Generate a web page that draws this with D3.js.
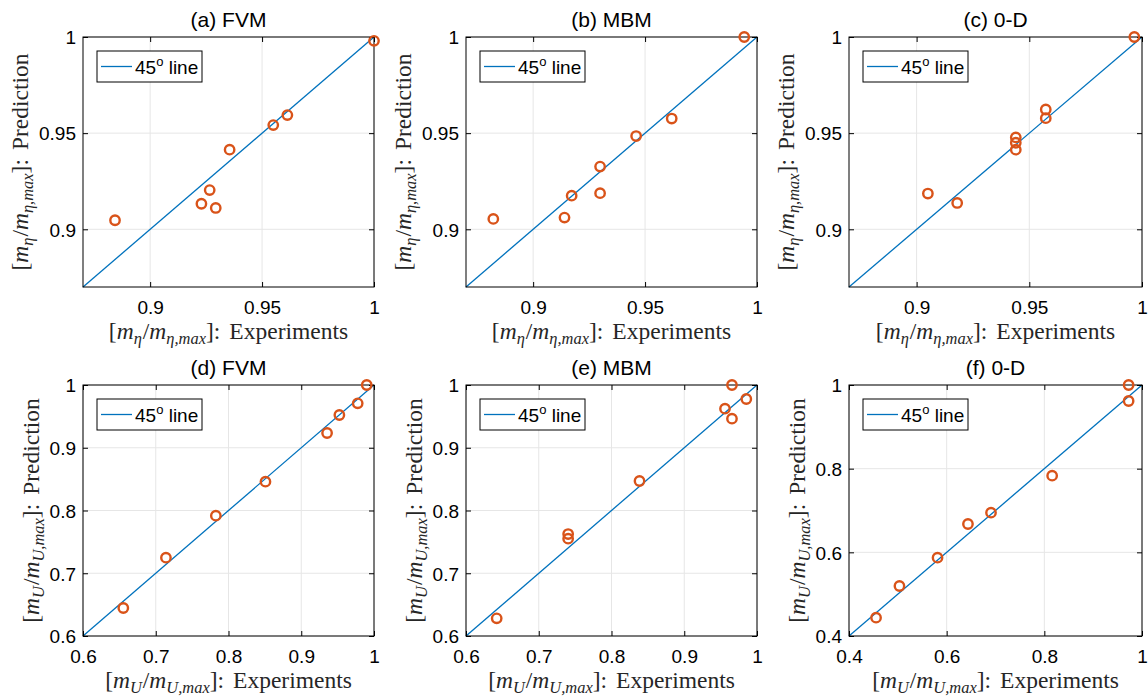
<!DOCTYPE html>
<html>
<head>
<meta charset="utf-8">
<script src="https://cdn.jsdelivr.net/npm/d3@7"></script>
<style>
  html, body { margin: 0; padding: 0; background: #fff; }
  svg { display: block; }
</style>
</head>
<body>
<svg id="fig" width="1148" height="696"></svg>
<script>
// ---- data -------------------------------------------------------------
const panelTitles = ["(a) FVM", "(b) MBM", "(c) 0-D", "(d) FVM", "(e) MBM", "(f) 0-D"];

// Top row: normalised eta-moment, experiment vs prediction
const fvmEtaExp  = [1.000, 0.9613, 0.955, 0.9355, 0.9266, 0.9229, 0.9293, 0.8843];
const fvmEtaPred = [0.998, 0.9594, 0.9542, 0.9414, 0.9204, 0.9133, 0.9111, 0.9047];
const mbmEtaExp  = [0.9943, 0.9619, 0.946, 0.9299, 0.9299, 0.9172, 0.914, 0.8822];
const mbmEtaPred = [1.000, 0.9576, 0.9485, 0.9326, 0.9188, 0.9175, 0.9061, 0.9054];
const zdEtaExp   = [0.9966, 0.9573, 0.9573, 0.944, 0.944, 0.944, 0.905, 0.918];
const zdEtaPred  = [1.000, 0.9623, 0.9578, 0.9478, 0.945, 0.9414, 0.9186, 0.9137];

// Bottom row: normalised U-moment, experiment vs prediction
const fvmUExp  = [0.990, 0.9776, 0.9524, 0.9355, 0.8508, 0.7826, 0.714, 0.6554];
const fvmUPred = [1.000, 0.9708, 0.9522, 0.9235, 0.846, 0.7918, 0.7248, 0.6446];
const mbmUExp  = [0.9656, 0.9853, 0.956, 0.9656, 0.8385, 0.7404, 0.7404, 0.6422];
const mbmUPred = [1.000, 0.9777, 0.9623, 0.9463, 0.847, 0.7625, 0.7551, 0.6282];
const zdUExp   = [0.9726, 0.9726, 0.816, 0.6908, 0.6436, 0.5813, 0.5033, 0.4554];
const zdUPred  = [1.000, 0.9618, 0.7833, 0.6948, 0.6677, 0.5873, 0.5195, 0.4438];

// Axis limits and ticks
const etaDomain = [0.87, 1];
const uDomain   = [0.6, 1];
const u0dDomain = [0.4, 1];
const etaTicks  = [0.9, 0.95, 1];
const etaTickLabels = ["0.9", "0.95", "1"];
const uTicks    = [0.6, 0.7, 0.8, 0.9, 1];
const uTickLabels = ["0.6", "0.7", "0.8", "0.9", "1"];
const u0dTicks  = [0.4, 0.6, 0.8, 1];
const u0dTickLabels = ["0.4", "0.6", "0.8", "1"];

const legendLabel = "45";
const xLabelWord = "Experiments";
const yLabelWord = "Prediction";

// ---- layout -----------------------------------------------------------
const colLeft  = [83, 466, 849];
const colWidth = [291, 291, 293];
const rowTop   = [37, 385];
const rowHeight = [250, 251];

const LINE_BLUE = "#0072BD";
const MARK_ORANGE = "#D95319";
const GRID = "#e6e6e6";
const SANS = "'Liberation Sans', Arial, Helvetica, sans-serif";
const SERIF = "'Liberation Serif', 'Times New Roman', serif";

const panels = [
  {xs: fvmEtaExp, ys: fvmEtaPred, dom: etaDomain, ticks: etaTicks, labels: etaTickLabels, sub: "\u03B7"},
  {xs: mbmEtaExp, ys: mbmEtaPred, dom: etaDomain, ticks: etaTicks, labels: etaTickLabels, sub: "\u03B7"},
  {xs: zdEtaExp,  ys: zdEtaPred,  dom: etaDomain, ticks: etaTicks, labels: etaTickLabels, sub: "\u03B7"},
  {xs: fvmUExp,   ys: fvmUPred,   dom: uDomain,   ticks: uTicks,   labels: uTickLabels,   sub: "U"},
  {xs: mbmUExp,   ys: mbmUPred,   dom: uDomain,   ticks: uTicks,   labels: uTickLabels,   sub: "U"},
  {xs: zdUExp,    ys: zdUPred,    dom: u0dDomain, ticks: u0dTicks, labels: u0dTickLabels, sub: "U"}
];

const svg = d3.select("#fig");

// Writes [m_s/m_{s,max}]: word into a text element using tspans
function mathLabel(text, sub, word) {
  const fs = 23.5;
  const sd = 5;
  text.attr("font-family", SERIF).attr("font-size", fs).attr("fill", "#262626");
  text.append("tspan").text("[");
  text.append("tspan").attr("font-style", "italic").text("m");
  text.append("tspan").attr("font-style", "italic").attr("font-size", fs * 0.7).attr("dy", sd).text(sub);
  text.append("tspan").attr("dy", -sd).attr("dx", 1).text("/");
  text.append("tspan").attr("font-style", "italic").text("m");
  text.append("tspan").attr("font-style", "italic").attr("font-size", fs * 0.7).attr("dy", sd).text(sub + ",max");
  text.append("tspan").attr("dy", -sd).text("]:");
  text.append("tspan").attr("dx", 9).text(word);
}

panels.forEach((p, i) => {
  const r = Math.floor(i / 3), c = i % 3;
  const left = colLeft[c], top = rowTop[r], w = colWidth[c], h = rowHeight[r];
  const x = d3.scaleLinear().domain(p.dom).range([left, left + w]);
  const y = d3.scaleLinear().domain(p.dom).range([top + h, top]);
  const g = svg.append("g");

  // grid
  g.selectAll(".gx").data(p.ticks).join("line")
    .attr("x1", d => x(d)).attr("x2", d => x(d))
    .attr("y1", top).attr("y2", top + h)
    .attr("stroke", GRID).attr("stroke-width", 1);
  g.selectAll(".gy").data(p.ticks).join("line")
    .attr("y1", d => y(d)).attr("y2", d => y(d))
    .attr("x1", left).attr("x2", left + w)
    .attr("stroke", GRID).attr("stroke-width", 1);

  // 45-degree reference line
  g.append("path")
    .datum(p.dom)
    .attr("d", d3.line().x(d => x(d)).y(d => y(d)))
    .attr("stroke", LINE_BLUE).attr("stroke-width", 1.3).attr("fill", "none");

  // axes: ticks inward on all four sides
  const tickLen = 5;
  const axB = d3.axisBottom(x).tickValues(p.ticks).tickSize(-tickLen).tickFormat((d, k) => p.labels[k]);
  const axT = d3.axisTop(x).tickValues(p.ticks).tickSize(-tickLen).tickFormat("");
  const axL = d3.axisLeft(y).tickValues(p.ticks).tickSize(-tickLen).tickFormat((d, k) => p.labels[k]);
  const axR = d3.axisRight(y).tickValues(p.ticks).tickSize(-tickLen).tickFormat("");

  const gb = g.append("g").attr("transform", `translate(0,${top + h})`).call(axB);
  const gt = g.append("g").attr("transform", `translate(0,${top})`).call(axT);
  const gl = g.append("g").attr("transform", `translate(${left},0)`).call(axL);
  const gr = g.append("g").attr("transform", `translate(${left + w},0)`).call(axR);
  [gb, gt, gl, gr].forEach(a => {
    a.select(".domain").remove();
    a.selectAll(".tick line").attr("stroke", "#000").attr("stroke-width", 1);
    a.selectAll(".tick text").attr("font-family", SANS).attr("font-size", 19).attr("fill", "#000");
  });
  gb.selectAll(".tick text").attr("dy", "0.71em").attr("y", 14);
  gl.selectAll(".tick text").attr("x", -7).attr("dy", "0.36em");

  // box
  g.append("rect").attr("x", left).attr("y", top).attr("width", w).attr("height", h)
    .attr("fill", "none").attr("stroke", "#000").attr("stroke-width", 1);

  // data markers
  g.selectAll("circle").data(p.xs.map((v, k) => [v, p.ys[k]])).join("circle")
    .attr("cx", d => x(d[0])).attr("cy", d => y(d[1])).attr("r", 4.7)
    .attr("fill", "none").attr("stroke", MARK_ORANGE).attr("stroke-width", 2.4);

  // legend
  const lg = g.append("g").attr("transform", `translate(${left + 14},${top + 14})`);
  lg.append("rect").attr("width", 105).attr("height", 31).attr("fill", "#fff").attr("stroke", "#000").attr("stroke-width", 1);
  lg.append("line").attr("x1", 4).attr("x2", 35).attr("y1", 15.5).attr("y2", 15.5)
    .attr("stroke", LINE_BLUE).attr("stroke-width", 1.3);
  const lt = lg.append("text").attr("x", 38).attr("y", 23)
    .attr("font-family", SANS).attr("font-size", 19).attr("fill", "#000");
  lt.append("tspan").text(legendLabel);
  lt.append("tspan").attr("font-size", 13).attr("dy", -8).text("o");
  lt.append("tspan").attr("dy", 8).text(" line");

  // title
  g.append("text").attr("x", left + w / 2).attr("y", top - 10)
    .attr("text-anchor", "middle").attr("font-family", SANS).attr("font-size", 21)
    .attr("fill", "#000").text(panelTitles[i]);

  // x label
  const xl = g.append("text").attr("x", left + w / 2).attr("y", top + h + 52).attr("text-anchor", "middle");
  mathLabel(xl, p.sub, xLabelWord);

  // y label, placed just outside the widest tick label
  let maxW = 0;
  gl.selectAll(".tick text").each(function () { maxW = Math.max(maxW, this.getComputedTextLength()); });
  const yx = left - 7 - maxW - 11;
  const yl = g.append("text").attr("text-anchor", "middle")
    .attr("transform", `translate(${yx},${top + h / 2}) rotate(-90)`);
  mathLabel(yl, p.sub, yLabelWord);
});
</script>
</body>
</html>
